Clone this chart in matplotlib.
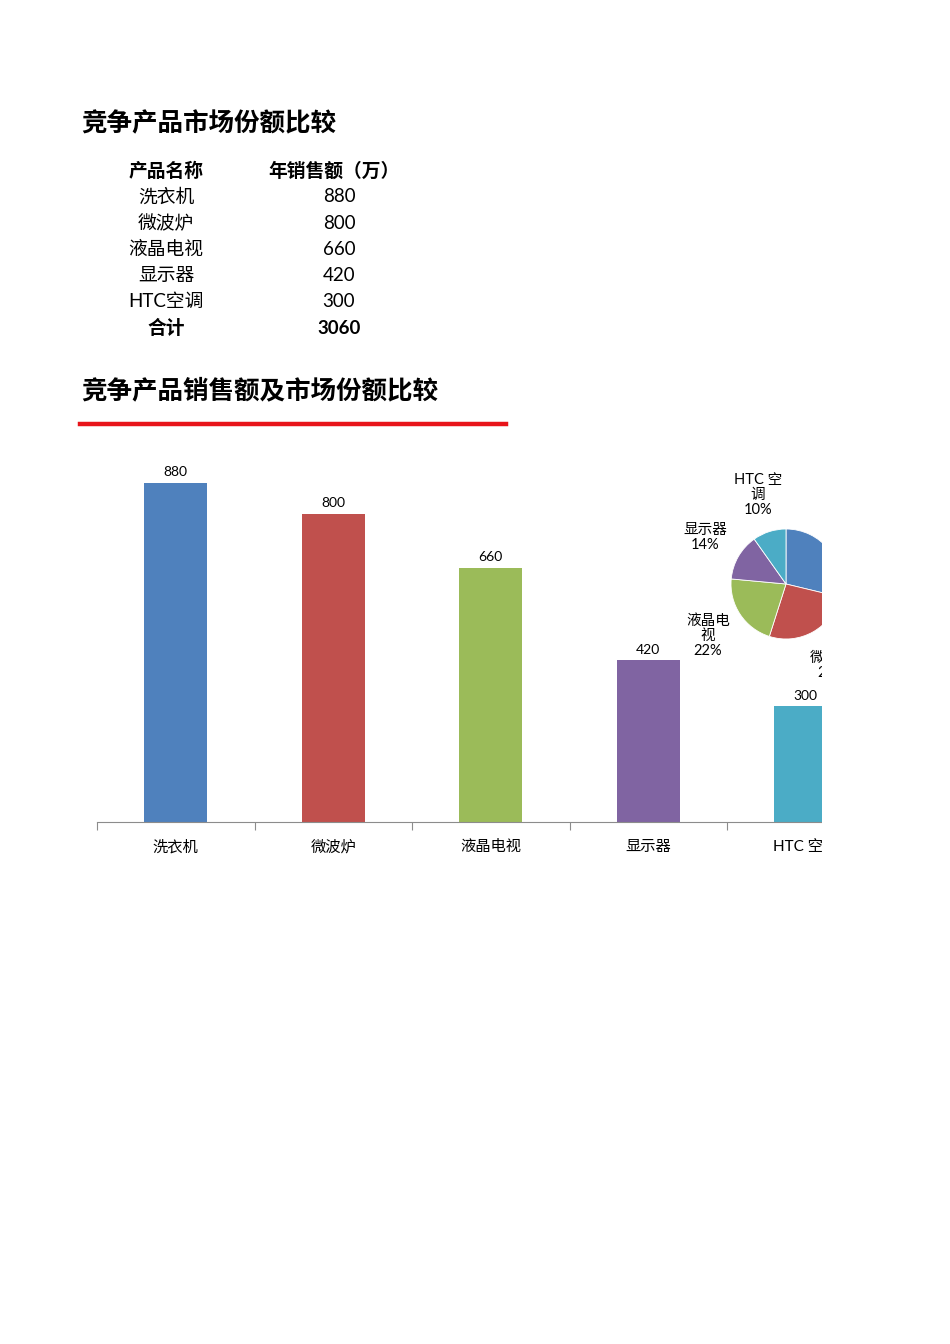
import matplotlib.pyplot as plt
from matplotlib.patches import Rectangle

plt.rcParams['font.family'] = ['Lato', 'Noto Sans CJK SC', 'DejaVu Sans']

products = ['洗衣机', '微波炉', '液晶电视', '显示器', 'HTC空调']
sales = [880, 800, 660, 420, 300]
axis_labels = ['洗衣机', '微波炉', '液晶电视', '显示器', 'HTC 空调']
pie_labels = ['洗衣机', '微波炉', '液晶电\n视', '显示器', 'HTC 空\n调']
colors = ['#4F81BD', '#C0504D', '#9BBB59', '#8064A2', '#4BACC6']
total = sum(sales)

W, H = 950, 1344
fig = plt.figure(figsize=(W / 100, H / 100), dpi=100)


def fx(x):
    return x / W


def fy(y):
    return 1 - y / H


# titles and table
fig.text(fx(81), fy(123), '竞争产品市场份额比较', fontsize=18.4, fontweight='bold', va='center')
fig.text(fx(81), fy(390), '竞争产品销售额及市场份额比较', fontsize=18.4, fontweight='bold', va='center')
fig.add_artist(plt.Line2D([fx(80), fx(506)], [fy(424), fy(424)], color='#E8141A', lw=3.2))

fig.text(fx(166), fy(171), '产品名称', fontsize=13.5, fontweight='bold', ha='center', va='center')
fig.text(fx(334), fy(171), '年销售额（万）', fontsize=13.5, fontweight='bold', ha='center', va='center')
row_y = 197
for name, val in zip(products, sales):
    fig.text(fx(166), fy(row_y), name, fontsize=13.5, ha='center', va='center')
    fig.text(fx(339), fy(row_y), str(val), fontsize=13.5, ha='center', va='center')
    row_y += 26.2
fig.text(fx(166), fy(row_y), '合计', fontsize=13.5, fontweight='bold', ha='center', va='center')
fig.text(fx(339), fy(row_y), str(total), fontsize=13.5, fontweight='bold', ha='center', va='center')

# bar chart
ax = fig.add_axes([fx(97), fy(822), 787.5 / W, 385.3 / H])
x = list(range(len(sales)))
bars = ax.bar(x, sales, width=0.4, color=colors)
for xi, v in zip(x, sales):
    ax.text(xi, v + 12, str(v), ha='center', va='bottom', fontsize=10)
ax.set_xlim(-0.5, len(sales) - 0.5)
ax.set_ylim(0, 1000)
for s in ['top', 'right', 'left']:
    ax.spines[s].set_visible(False)
ax.spines['bottom'].set_color('#8C8C8C')
ax.set_yticks([])
ax.set_xticks([i - 0.5 for i in range(len(sales) + 1)])
ax.set_xticklabels([])
ax.set_xticks(x, minor=True)
ax.set_xticklabels(axis_labels, minor=True, fontsize=11)
ax.tick_params(axis='x', which='major', length=6, color='#8C8C8C')
ax.tick_params(axis='x', which='minor', length=0, pad=13)

# pie chart
pax = fig.add_axes([fx(731), fy(639), 110 / W, 110 / H])
pct = [v / total for v in sales]
labels = [f'{n}\n{round(p * 100)}%' for n, p in zip(pie_labels, pct)]
wedges, texts = pax.pie(sales, colors=colors, startangle=90, counterclock=False,
                        labels=labels, labeldistance=1.7,
                        wedgeprops=dict(edgecolor='white', linewidth=0.6),
                        textprops=dict(fontsize=10.5, linespacing=1.1))
for t in texts:
    t.set_ha('center')
    t.set_va('center')
pax.set_xlim(-1, 1)
pax.set_ylim(-1, 1)
pax.set_aspect('equal')

# chart area is cut off at the right edge
fig.add_artist(Rectangle((fx(822), fy(880)), 1 - fx(822), 430 / H,
                         transform=fig.transFigure, facecolor='white',
                         edgecolor='none', zorder=10))

fig.savefig('out.png', dpi=100)
